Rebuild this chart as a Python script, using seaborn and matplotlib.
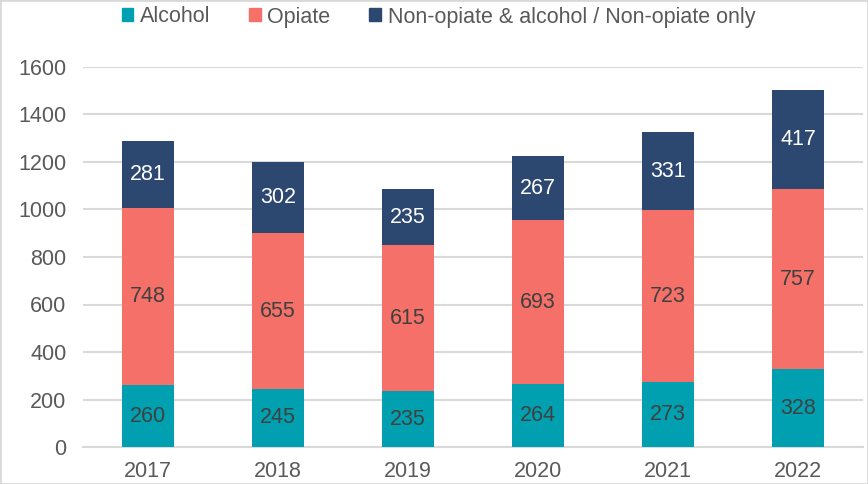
import matplotlib
matplotlib.use("Agg")
import matplotlib.pyplot as plt
import seaborn as sns
import pandas as pd
import numpy as np

years = ["2017", "2018", "2019", "2020", "2021", "2022"]
alcohol = [260, 245, 235, 264, 273, 328]
opiate = [748, 655, 615, 693, 723, 757]
non_opiate = [281, 302, 235, 267, 331, 417]
series_names = ["Alcohol", "Opiate", "Non-opiate & alcohol / Non-opiate only"]
colors = ["#00A0B0", "#F47068", "#2C4770"]
yticks = [0, 200, 400, 600, 800, 1000, 1200, 1400, 1600]

sns.set_theme(style="white")
plt.rcParams["font.family"] = ["Liberation Sans", "DejaVu Sans"]

a = np.array(alcohol)
o = np.array(opiate)
n = np.array(non_opiate)
df = pd.DataFrame({
    "year": years,
    "c1": a,
    "c2": a + o,
    "c3": a + o + n,
})

FS = 15.5
fig = plt.figure(figsize=(8.68, 4.84), dpi=100)
ax = fig.add_axes([83 / 868, 1 - 447 / 484, 780 / 868, 380 / 484])

for col, c in zip(["c3", "c2", "c1"], colors[::-1]):
    sns.barplot(data=df, x="year", y=col, color=c, width=0.4, ax=ax,
                saturation=1, zorder=3, edgecolor="none", linewidth=0)

ax.set_ylim(0, 1600)
ax.set_xlim(-0.5, 5.5)
ax.set_yticks(yticks)
ax.set_yticklabels([str(t) for t in yticks])
ax.yaxis.grid(True, color="#D9D9D9", linewidth=1.5, zorder=0)
ax.set_axisbelow(True)
for s in ["top", "right", "left"]:
    ax.spines[s].set_visible(False)
ax.spines["bottom"].set_color("#D9D9D9")
ax.spines["bottom"].set_linewidth(1.5)
ax.tick_params(axis="both", length=0, labelsize=FS, colors="#595959")
ax.tick_params(axis="y", pad=12)
ax.tick_params(axis="x", pad=10)
ax.set_xlabel("")
ax.set_ylabel("")

bottoms = [np.zeros(6), a, a + o]
vals = [a, o, n]
txtcols = ["#404040", "#404040", "white"]
for v, b, tc in zip(vals, bottoms, txtcols):
    for i in range(6):
        ax.text(i, b[i] + v[i] / 2, str(v[i]), ha="center", va="center",
                fontsize=FS, color=tc, zorder=5)

handles = [plt.Rectangle((0, 0), 1, 1, color=c) for c in colors]
fig.legend(handles, series_names, loc="center", bbox_to_anchor=(0.505, 1 - 17 / 484),
           ncol=3, frameon=False, fontsize=FS, handlelength=0.55, handleheight=0.55,
           handletextpad=0.3, columnspacing=1.8, labelcolor="#595959",
           borderpad=0)

fig.patches.append(plt.Rectangle((0, 0), 1, 1, transform=fig.transFigure,
                                 fill=False, edgecolor="#D9D9D9", linewidth=2))
fig.savefig("out.png", dpi=100)
